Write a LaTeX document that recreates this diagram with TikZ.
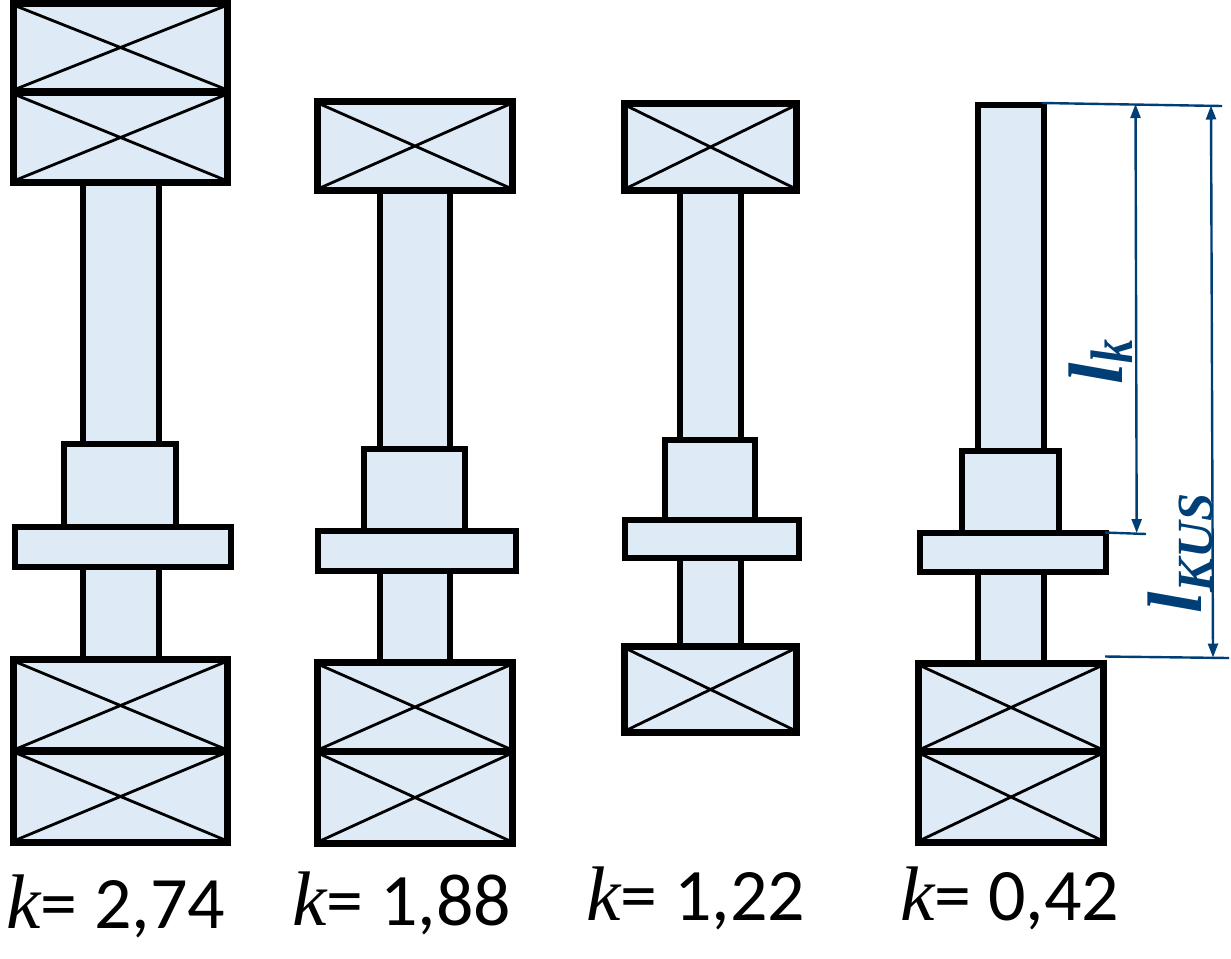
\documentclass[tikz,border=0pt]{standalone}
\usepackage{fontspec}
\setmainfont{Carlito}
\newfontfamily\serifit{Liberation Serif}
\newfontfamily\serifnarrow[FakeStretch=0.8]{Liberation Serif}
\usetikzlibrary{arrows.meta}
\definecolor{partfill}{HTML}{DEEAF6}
\definecolor{dimblue}{HTML}{003F76}
\tikzset{
  part/.style={draw=black,fill=partfill,line width=4.5pt,line join=miter},
  framed/.style={draw=black,fill=partfill,line width=4.9pt,line join=miter},
  cross/.style={draw=black,line width=2.1pt},
  divider/.style={fill=black},
  dimline/.style={draw=dimblue,line width=1.8pt},
  dimarrow/.style={draw=dimblue,line width=1.8pt,{Triangle[length=10.5pt,width=7.5pt]}-{Triangle[length=10.5pt,width=7.5pt]}},
  valuetext/.style={anchor=base west,inner sep=0pt,text=black},
  dimtext/.style={inner sep=0pt,text=dimblue,rotate=90,anchor=base west}
}
% outer x1, outer y1, outer x2, outer y2
\newcommand{\partbox}[4]{\draw[part] (#1+3,#2+3) rectangle (#3-3,#4-3);}
\newcommand{\crossbox}[4]{%
  \draw[framed] (#1+3.3,#2+3.3) rectangle (#3-3.3,#4-3.3);
  \draw[cross] (#1+6,#2+6) -- (#3-6,#4-6) (#3-6,#2+6) -- (#1+6,#4-6);}
\newcommand{\kfont}{\fontsize{58pt}{60pt}\serifit\itshape}
\newcommand{\nfont}{\fontsize{55.5pt}{60pt}\selectfont}
\newcommand{\lfont}{\fontsize{58pt}{60pt}\serifit\bfseries\itshape}
\newcommand{\sfont}{\fontsize{38pt}{40pt}\serifit\bfseries\itshape}
\newcommand{\snarrow}{\fontsize{45pt}{46pt}\serifnarrow\bfseries\itshape}
\begin{document}
\begin{tikzpicture}[x=0.75pt,y=-0.75pt]
\useasboundingbox (0,0) rectangle (1231,958);
% column 1
\partbox{80}{180}{162}{447}
\partbox{80}{564}{162}{662}
\partbox{61}{441}{179}{530}
\partbox{12}{524}{234}{570}
\crossbox{10}{0}{231}{95}
\crossbox{10}{89}{231}{186}
\crossbox{10}{656}{231}{755}
\crossbox{10}{747}{231}{846}
\fill[divider] (10,747) rectangle (231,755);
% column 2
\partbox{377}{188}{453}{452}
\partbox{377}{568}{453}{665}
\partbox{361}{446}{468}{534}
\partbox{315}{528}{519}{574}
\crossbox{314}{98}{516}{194}
\crossbox{314}{659}{516}{755}
\crossbox{314}{748}{516}{847}
\fill[divider] (314,748) rectangle (516,755);
% column 3
\partbox{677}{188}{744}{443}
\partbox{677}{555}{744}{649}
\partbox{662}{437}{758}{523}
\partbox{622}{517}{802}{561}
\crossbox{621}{100}{800}{194}
\crossbox{621}{643}{800}{736}
% column 4
\partbox{975}{102}{1047}{454}
\partbox{975}{569}{1047}{666}
\partbox{959}{448}{1062}{536}
\partbox{917}{530}{1109}{575}
\crossbox{915}{660}{1107}{755}
\crossbox{915}{748}{1107}{846}
\fill[divider] (915,748) rectangle (1107,755);
% dimensions
\coordinate (topL) at (1042,103);
\coordinate (topR) at (1222,106);
\coordinate (midL) at (1105,532.5);
\coordinate (midR) at (1146,534);
\coordinate (botL) at (1105,656.5);
\coordinate (botR) at (1229,658);
\coordinate (lkT) at (1135.5,104);
\coordinate (lkB) at (1136.7,533);
\coordinate (kusT) at (1211,105.5);
\coordinate (kusB) at (1213,657.5);
\draw[dimline] (topL) -- (topR);
\draw[dimline] (midL) -- (midR);
\draw[dimline] (botL) -- (botR);
\draw[dimarrow] (lkT) -- (lkB);
\draw[dimarrow] (kusT) -- (kusB);
\node[dimtext] (lk) at (1122,385) {\lfont l\raisebox{-7.5pt}{\snarrow k}};
\node[dimtext] (lkus) at (1201,614) {\lfont l\raisebox{-8.5pt}{\sfont KUS}};
% values
\node[valuetext] (k1) at (6,928) {{\kfont k}\nfont= 2,74};
\node[valuetext] (k2) at (292,925) {{\kfont k}\nfont= 1,88};
\node[valuetext] (k3) at (586,920) {{\kfont k}\nfont= 1,22};
\node[valuetext] (k4) at (900,920) {{\kfont k}\nfont= 0,42};
\end{tikzpicture}
\end{document}
